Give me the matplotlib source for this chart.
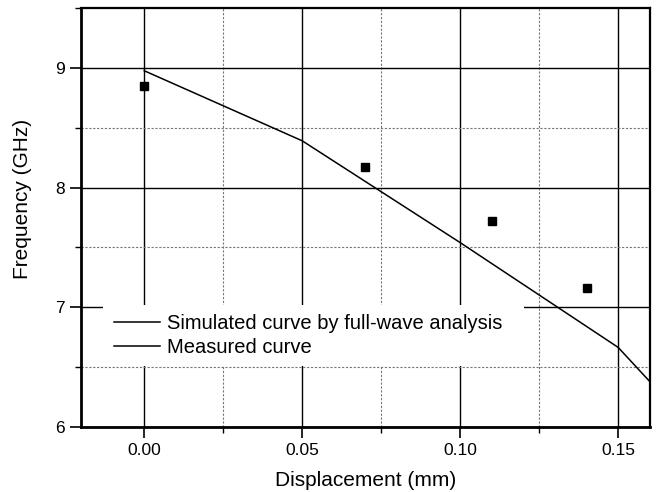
import matplotlib.pyplot as plt
from matplotlib.patches import Rectangle
from matplotlib.ticker import MultipleLocator

plt.rcParams['font.family'] = ['Liberation Sans', 'DejaVu Sans']

# simulated curve (full-wave analysis)
sim_x = [0.0, 0.05, 0.10, 0.15, 0.16]
sim_y = [8.975, 8.39, 7.54, 6.665, 6.38]

# measured points
meas_x = [0.0, 0.07, 0.11, 0.14]
meas_y = [8.85, 8.17, 7.72, 7.16]

x_ticks = [0.00, 0.05, 0.10, 0.15]
x_labels = ['0.00', '0.05', '0.10', '0.15']
y_ticks = [6, 7, 8, 9]

fig = plt.figure(figsize=(6.59, 4.92), dpi=100)
ax = fig.add_axes([0.123, 0.132, 0.863, 0.852])

ax.plot(sim_x, sim_y, color='black', lw=1.1, label='Simulated curve by full-wave analysis')
ax.plot(meas_x, meas_y, ls='none', marker='s', ms=6, color='black')
# legend entry for the measured data is drawn as a line in the original
ax.plot([], [], color='black', lw=1.1, label='Measured curve')

ax.set_xlim(-0.02, 0.16)
ax.set_ylim(6, 9.5)
ax.set_xticks(x_ticks)
ax.set_xticklabels(x_labels)
ax.set_yticks(y_ticks)
ax.xaxis.set_minor_locator(MultipleLocator(0.025))
ax.yaxis.set_minor_locator(MultipleLocator(0.5))

ax.grid(True, which='major', color='black', lw=1.0)
ax.grid(True, which='minor', color='#777777', lw=0.8, ls=(0, (2, 1.5)))
ax.set_axisbelow(True)

ax.tick_params(which='major', direction='out', length=8, width=1.2, labelsize=12.5, colors='black')
ax.tick_params(which='minor', direction='out', length=4, width=1.0)
for side in ['left', 'bottom']:
    ax.spines[side].set_linewidth(2.0)
for side in ['top', 'right']:
    ax.spines[side].set_linewidth(1.6)

ax.set_xlabel('Displacement (mm)', fontsize=15, labelpad=9)
ax.set_ylabel('Frequency (GHz)', fontsize=15)
ax.yaxis.set_label_coords(-0.086, 0.545)

# white block behind the legend that hides the grid, as in the original
ax.add_patch(Rectangle((0.0387, 0.1456), 0.740, 0.1466, transform=ax.transAxes,
                       facecolor='white', edgecolor='none', zorder=1.5))

leg = ax.legend(loc='upper left', bbox_to_anchor=(0.058, 0.2697), borderaxespad=0,
                fontsize=14.5, handlelength=2.3, handletextpad=0.35, labelspacing=0.25,
                frameon=False, borderpad=0)

fig.savefig('out.png', dpi=100)
